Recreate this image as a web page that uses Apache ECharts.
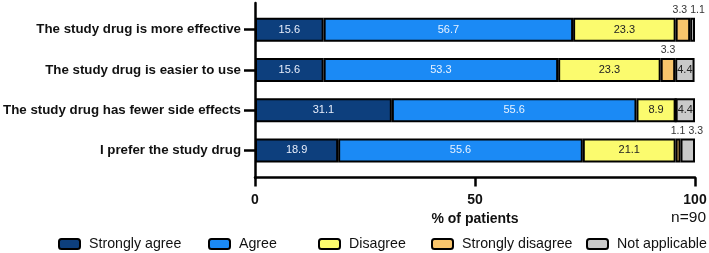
<!DOCTYPE html>
<html>
<head>
<meta charset="utf-8">
<script src="https://cdn.jsdelivr.net/npm/echarts@6/dist/echarts.min.js"></script>
<style>
  html, body { margin: 0; padding: 0; background: #fff; }
  #chart { width: 709px; height: 253px; }
</style>
</head>
<body>
<div id="chart"></div>
<script>
// survey statements, top to bottom
const statements = [
  'The study drug is more effective',
  'The study drug is easier to use',
  'The study drug has fewer side effects',
  'I prefer the study drug'
]
const responses = ['Strongly agree', 'Agree', 'Disagree', 'Strongly disagree', 'Not applicable']
const stronglyAgree = [15.6, 15.6, 31.1, 18.9]
const agree = [56.7, 53.3, 55.6, 55.6]
const disagree = [23.3, 23.3, 8.9, 21.1]
const stronglyDisagree = [3.3, 3.3, 0, 1.1]
const notApplicable = [1.1, 4.4, 4.4, 3.3]
const xTicks = [0, 50, 100]

const colors = ['#0d3f7d', '#1b8af5', '#fbfb6e', '#f8c56c', '#c9c9c9']
const labelColors = ['#e8eefb', '#e8f2ff', '#222', '#222', '#222']
const seriesValues = [stronglyAgree, agree, disagree, stronglyDisagree, notApplicable]
// small segments get their label above the bar, nudged apart
const aboveShift = { '3-0': -3, '4-0': 5, '3-3': 0, '4-3': 8, '3-1': 0 }

const font = '"Liberation Sans", Arial, Helvetica, sans-serif'

const series = responses.map((name, si) => ({
  name,
  type: 'bar',
  stack: 'total',
  barWidth: 24,
  xAxisIndex: 0,
  yAxisIndex: 0,
  itemStyle: { color: colors[si], borderColor: '#000', borderWidth: 2 },
  data: seriesValues[si].map((v, ci) => {
    const item = { value: v }
    if (v === 0) {
      item.label = { show: false }
    } else if (v < 4 && (si === 3 || (si === 4 && ci !== 1 && ci !== 2))) {
      item.label = {
        show: true,
        position: 'top',
        distance: 2,
        offset: [aboveShift[si + '-' + ci] || 0, 0],
        color: '#333',
        fontSize: 10.5
      }
    }
    return item
  }),
  label: {
    show: true,
    position: 'inside',
    color: labelColors[si],
    fontSize: 11,
    fontFamily: font,
    formatter: p => p.value.toFixed(1)
  }
}))

const legends = responses.map((name, i) => ({
  data: [name],
  left: [58, 208, 318, 431, 586][i],
  top: 237,
  padding: 0,
  itemWidth: 21,
  itemHeight: 10,
  selectedMode: false,
  textStyle: { fontSize: 14.2, fontFamily: font, color: '#111', padding: [0, 0, 0, 4] },
  itemStyle: { borderColor: '#000', borderWidth: 2 }
}))

const chart = echarts.init(document.getElementById('chart'))
chart.setOption({
  animation: false,
  textStyle: { fontFamily: font },
  title: {
    text: 'n=90',
    right: 3,
    top: 210,
    padding: 0,
    textStyle: { fontSize: 15.5, fontWeight: 'normal', color: '#111', fontFamily: font }
  },
  legend: legends,
  grid: [
    { left: 255, right: 14, top: 9.5, height: 161, outerBoundsMode: 'none', containLabel: false },
    { left: 255, right: 14, top: 3, height: 175, outerBoundsMode: 'none', containLabel: false }
  ],
  xAxis: [
    {
      type: 'value',
      gridIndex: 0,
      min: 0,
      max: 100,
      interval: 50,
      offset: 7,
      name: '% of patients',
      nameLocation: 'middle',
      nameGap: 35,
      nameTextStyle: { fontSize: 14, fontWeight: 'bold', color: '#111', fontFamily: font },
      axisLine: { show: true, lineStyle: { color: '#000', width: 2.5 } },
      axisTick: { show: true, length: 9, lineStyle: { color: '#000', width: 2.5 } },
      axisLabel: {
        margin: 16,
        fontSize: 14,
        fontWeight: 'bold',
        color: '#111',
        formatter: v => (xTicks.includes(v) ? String(v) : '')
      },
      splitLine: { show: false }
    },
    { type: 'value', gridIndex: 1, show: false, min: 0, max: 1 }
  ],
  yAxis: [
    {
      type: 'category',
      gridIndex: 0,
      data: statements,
      inverse: true,
      axisLine: { show: false },
      axisTick: { show: true, alignWithLabel: true, length: 11, lineStyle: { color: '#000', width: 2.5 } },
      axisLabel: { margin: 14, fontSize: 13.3, fontWeight: 'bold', color: '#111' }
    },
    {
      type: 'value',
      gridIndex: 1,
      min: 0,
      max: 1,
      axisLine: { show: true, lineStyle: { color: '#000', width: 2.5 } },
      axisTick: { show: false },
      axisLabel: { show: false },
      splitLine: { show: false }
    }
  ],
  series
})
</script>
</body>
</html>
